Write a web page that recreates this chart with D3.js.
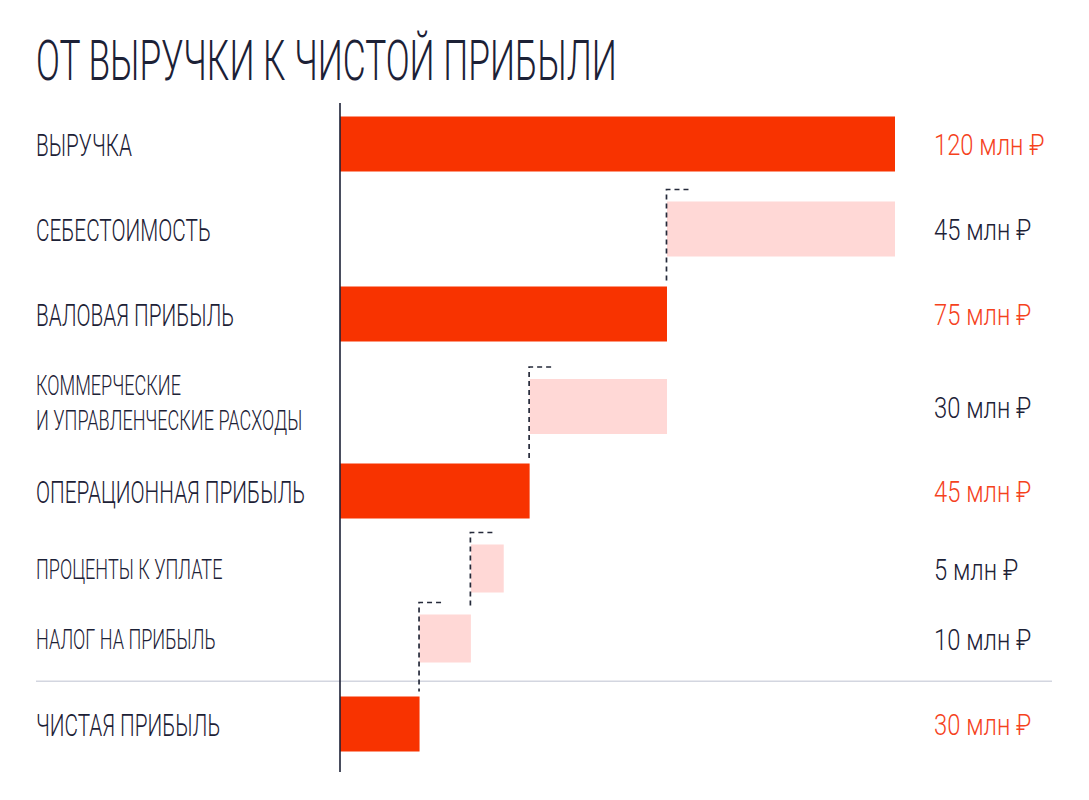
<html>
<head>
    <meta charset="utf-8">
    <script src="https://d3js.org/d3.v7.min.js"></script>
    <style>
        body { margin: 0; background: #ffffff; }
        text { font-family: Roboto, "Noto Sans", sans-serif; font-weight: 300; }
    </style>
</head>

<body>
    <svg id="chart"></svg>

    <script>
        // chart data
        var title = "ОТ ВЫРУЧКИ К ЧИСТОЙ ПРИБЫЛИ";
        var categories = [
            ["ВЫРУЧКА"],
            ["СЕБЕСТОИМОСТЬ"],
            ["ВАЛОВАЯ ПРИБЫЛЬ"],
            ["КОММЕРЧЕСКИЕ", "И УПРАВЛЕНЧЕСКИЕ РАСХОДЫ"],
            ["ОПЕРАЦИОННАЯ ПРИБЫЛЬ"],
            ["ПРОЦЕНТЫ К УПЛАТЕ"],
            ["НАЛОГ НА ПРИБЫЛЬ"],
            ["ЧИСТАЯ ПРИБЫЛЬ"]
        ];
        var amounts = [120, 45, 75, 30, 45, 5, 10, 30];
        var kinds = ["total", "minus", "total", "minus", "total", "minus", "minus", "total"];
        var levels = [0, 0, 0, 0, 0, 1, 1, 0];      // 1 = sub-item
        // bar extents as drawn in the picture (axis in млн ₽)
        var barFrom = [0, 70.7, 0, 41, 0, 28.3, 17.2, 0];
        var barTo   = [120, 120, 70.7, 70.7, 41, 35.4, 28.3, 17.2];
        var unit = " млн ₽";

        var W = 1089, H = 800;
        var Red = "#f83300", Pink = "#ffd8d6", Ink = "#1c2136", ValueRed = "#f5421c";

        var svg = d3.select("#chart").attr("width", W).attr("height", H);

        var rows = categories.map(function(c, i) {
            return { lines: c, amount: amounts[i], kind: kinds[i], level: levels[i],
                     from: barFrom[i], to: barTo[i], index: i };
        });

        // row heights depend on row type, centres are cumulative
        function rowH(d) {
            if (d.level == 1) return 70;
            if (d.lines.length > 1) return 92;
            return 85;
        }
        var yc = 144;
        rows.forEach(function(d, i) {
            if (i > 0) {
                yc += (rowH(rows[i-1]) + rowH(d)) / 2;
                if (d.index == rows.length - 1) yc += 8;
            }
            d.y = yc;
        });

        var x = d3.scaleLinear().domain([0, 120]).range([340, 895]);

        function barH(d) { return d.level == 1 ? 48 : 55; }
        function barY(d) { return d.y + (d.lines.length > 1 ? 4 : 0); }

        // separator before the last row
        var last = rows[rows.length - 1], prev = rows[rows.length - 2];
        var sepY = (last.y + prev.y) / 2;
        svg.append("line")
            .attr("x1", 36).attr("x2", 1052)
            .attr("y1", sepY).attr("y2", sepY)
            .attr("stroke", "#d3d6e0").attr("stroke-width", 1.5);

        // bars
        svg.selectAll(".bar")
            .data(rows)
            .enter()
            .append("rect").classed("bar", true)
            .attr("x", function(d){ return x(d.from); })
            .attr("width", function(d){ return x(d.to) - x(d.from); })
            .attr("y", function(d){ return barY(d) - barH(d)/2; })
            .attr("height", barH)
            .attr("fill", function(d){ return d.kind == "total" ? Red : Pink; });

        // dashed connectors from every decrease down to the next bar's end
        var steps = rows.filter(function(d){ return d.kind == "minus"; });
        svg.selectAll(".conn")
            .data(steps)
            .enter()
            .append("path").classed("conn", true)
            .attr("d", function(d) {
                var next = rows[d.index + 1];
                var x0 = x(d.from) - 0.5;
                var top = barY(d) - barH(d)/2 - 12;
                var bot = barY(next) - barH(next)/2 - 5;
                return "M" + (x0 + 22) + "," + top + "H" + x0 + "V" + bot;
            })
            .attr("fill", "none")
            .attr("stroke", "#252a3a").attr("stroke-width", 1.7)
            .attr("stroke-dasharray", "5,4");

        // zero axis
        svg.append("line")
            .attr("x1", x(0)).attr("x2", x(0))
            .attr("y1", rows[0].y - 41).attr("y2", last.y + 48)
            .attr("stroke", Ink).attr("stroke-width", 1.6);

        // title
        svg.append("text")
            .attr("transform", "translate(36,80) scale(0.63,1)")
            .attr("font-size", 56)
            .attr("fill", Ink)
            .text(title);

        // category labels
        var labels = svg.selectAll(".label")
            .data(rows)
            .enter()
            .append("g").classed("label", true);

        labels.each(function(d) {
            var g = d3.select(this);
            var n = d.lines.length;
            var fs = (d.level == 1 || n > 1) ? 27 : 31;
            var cap = fs * 0.711;
            d.lines.forEach(function(line, k) {
                var base = n > 1 ? d.y - 8 + k * 35 : d.y + cap/2 + 1;
                g.append("text")
                    .attr("transform", "translate(36," + base + ") scale(0.67,1)")
                    .attr("font-size", fs)
                    .attr("fill", Ink)
                    .text(line);
            });
        });

        // value labels
        svg.selectAll(".value")
            .data(rows)
            .enter()
            .append("text").classed("value", true)
            .attr("transform", function(d){
                return "translate(934," + (barY(d) + 11) + ") scale(0.82,1)";
            })
            .attr("font-size", 29)
            .attr("font-weight", 400)
            .attr("fill", function(d){ return d.kind == "total" ? ValueRed : Ink; })
            .text(function(d){ return d.amount + unit; });
    </script>
</body>
</html>
